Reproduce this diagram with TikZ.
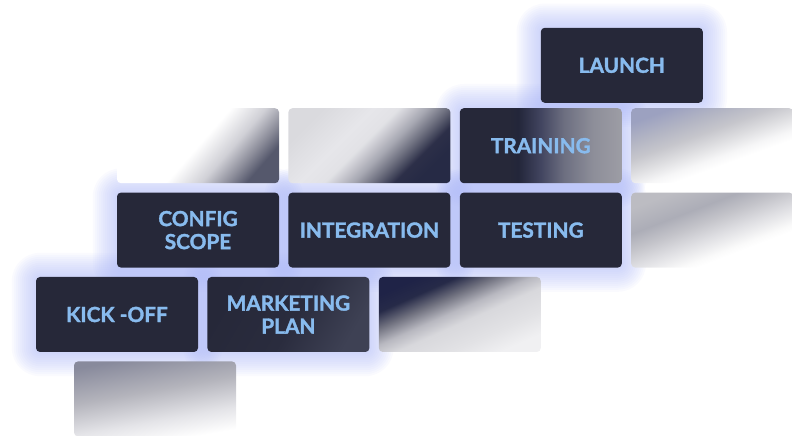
\documentclass[tikz,border=0pt]{standalone}
\usepackage{fontspec}
\setmainfont{Lato}[BoldFeatures={FakeBold=1.6}]
\usetikzlibrary{positioning,backgrounds}
\definecolor{phasebg}{HTML}{262839}
\definecolor{phasetext}{HTML}{88BBEE}
\definecolor{glowblue}{HTML}{A6B2F6}
\definecolor{gA1}{HTML}{D0D0D6}\definecolor{gA2}{HTML}{8C8D9A}\definecolor{gA3}{HTML}{55586C}
\definecolor{gB0}{HTML}{DADADE}\definecolor{gB1}{HTML}{E6E6EA}\definecolor{gB2}{HTML}{E2E2E6}
\definecolor{gB3}{HTML}{A8A9B3}\definecolor{gB4}{HTML}{6A6C7C}\definecolor{gB5}{HTML}{2C2F48}
\definecolor{gB6}{HTML}{262A45}
\definecolor{tr1}{HTML}{23263A}\definecolor{tr2}{HTML}{424560}\definecolor{tr3}{HTML}{6C6E80}
\definecolor{tr4}{HTML}{8D8E99}\definecolor{tr5}{HTML}{9D9DA5}
\definecolor{gD0}{HTML}{9CA1C0}\definecolor{gD1}{HTML}{B4B6C4}\definecolor{gD2}{HTML}{C6C6CC}
\definecolor{gD3}{HTML}{DCDCDF}\definecolor{gD4}{HTML}{F6F6F7}
\definecolor{gE0}{HTML}{BCBCC2}\definecolor{gE1}{HTML}{ACADB7}\definecolor{gE2}{HTML}{C4C4CA}
\definecolor{gE3}{HTML}{DEDEE2}\definecolor{gE4}{HTML}{FAFAFA}
\definecolor{gF0}{HTML}{1F2347}\definecolor{gF1}{HTML}{262A48}\definecolor{gF2}{HTML}{70717F}
\definecolor{gF3}{HTML}{B8B8C0}\definecolor{gF4}{HTML}{D8D8DC}\definecolor{gF5}{HTML}{E2E2E5}
\definecolor{gF6}{HTML}{F0F0F2}
\definecolor{gG0}{HTML}{888A9C}\definecolor{gG1}{HTML}{B4B4BC}\definecolor{gG2}{HTML}{E4E4E8}
\definecolor{mk1}{HTML}{2A2C3E}\definecolor{mk2}{HTML}{3E4154}
\pgfdeclarehorizontalshading{ghostA}{100bp}{color(0bp)=(white); color(50bp)=(white);
  color(61bp)=(gA1); color(69bp)=(gA2); color(75bp)=(gA3); color(100bp)=(gA3)}
\pgfdeclarehorizontalshading{ghostB}{100bp}{color(0bp)=(gB0); color(25bp)=(gB0);
  color(40bp)=(gB1); color(47.5bp)=(gB2); color(56bp)=(gB3); color(62.5bp)=(gB4);
  color(68.5bp)=(gB5); color(75bp)=(gB6); color(100bp)=(gB6)}
\pgfdeclarehorizontalshading{ghostTrain}{100bp}{color(0bp)=(phasebg); color(40bp)=(phasebg);
  color(43bp)=(tr1); color(50bp)=(tr2); color(57bp)=(tr3); color(66bp)=(tr4);
  color(75bp)=(tr5); color(100bp)=(tr5)}
\pgfdeclarehorizontalshading{ghostD}{100bp}{color(0bp)=(gD0); color(25bp)=(gD0);
  color(35bp)=(gD1); color(42.5bp)=(gD2); color(49bp)=(gD3); color(56.5bp)=(gD4);
  color(61bp)=(white); color(100bp)=(white)}
\pgfdeclarehorizontalshading{ghostE}{100bp}{color(0bp)=(gE0); color(25bp)=(gE0);
  color(37bp)=(gE1); color(45bp)=(gE2); color(53bp)=(gE3); color(62bp)=(gE4);
  color(65bp)=(white); color(100bp)=(white)}
\pgfdeclarehorizontalshading{ghostF}{100bp}{color(0bp)=(gF0); color(25bp)=(gF0);
  color(32.5bp)=(gF1); color(40bp)=(gF2); color(47.5bp)=(gF3); color(54bp)=(gF4);
  color(65bp)=(gF5); color(75bp)=(gF6); color(100bp)=(gF6)}
\pgfdeclarehorizontalshading{ghostG}{100bp}{color(0bp)=(gG0); color(25bp)=(gG0);
  color(45bp)=(gG1); color(62.5bp)=(gG2); color(75bp)=(white); color(100bp)=(white)}
\pgfdeclarehorizontalshading{ghostMkt}{100bp}{color(0bp)=(phasebg); color(25bp)=(phasebg);
  color(52.5bp)=(mk1); color(75bp)=(mk2); color(100bp)=(mk2)}
\tikzset{
block/.style={rectangle, rounded corners=4pt, minimum width=162pt, minimum height=75pt,
  inner sep=0pt, align=center, text=phasetext,
  font=\bfseries\fontsize{20.8}{23}\selectfont},
phase/.style={block, fill=phasebg},
ghost/.style 2 args={block, shading=#1, shading angle=#2},
glow/.style={fill=glowblue, opacity=0.06},
node distance=9pt,
}

\begin{document}
\begin{tikzpicture}
        \useasboundingbox (0,0) rectangle (792pt,436pt);
        \node[phase] (kick) at (117pt,121.5pt) {KICK -OFF};
        \node[ghost={ghostMkt}{-30}, right=of kick] (mkt) {MARKETING\\PLAN};
        \node[ghost={ghostF}{-66}, right=of mkt] (g6) {};
        \node[phase, above=of kick, xshift=81pt] (cfg) {CONFIG\\SCOPE};
        \node[phase, right=of cfg] (integ) {INTEGRATION};
        \node[phase, right=of integ] (test) {TESTING};
        \node[ghost={ghostE}{-69}, right=of test] (g5) {};
        \node[ghost={ghostA}{-41}, above=of cfg] (g1) {};
        \node[ghost={ghostB}{-45}, above=of integ] (g2) {};
        \node[ghost={ghostTrain}{0}, above=of test] (train) {TRAINING};
        \node[ghost={ghostD}{-70}, above=of g5] (g4) {};
        \node[phase, above=5pt of train, xshift=81pt] (launch) {LAUNCH};
        \node[ghost={ghostG}{-80}, below=of kick, xshift=38pt] (g7) {};

        \begin{scope}[on background layer]
        \foreach \n in {launch,train,cfg,integ,test,kick,mkt}
          \foreach \d in {2,4,...,24}
            \fill[glow, rounded corners=4pt+\d pt]
              ([shift={(-\d pt,-\d pt)}]\n.south west) rectangle ([shift={(\d pt,\d pt)}]\n.north east);
        \end{scope}
    \end{tikzpicture}
\end{document}
